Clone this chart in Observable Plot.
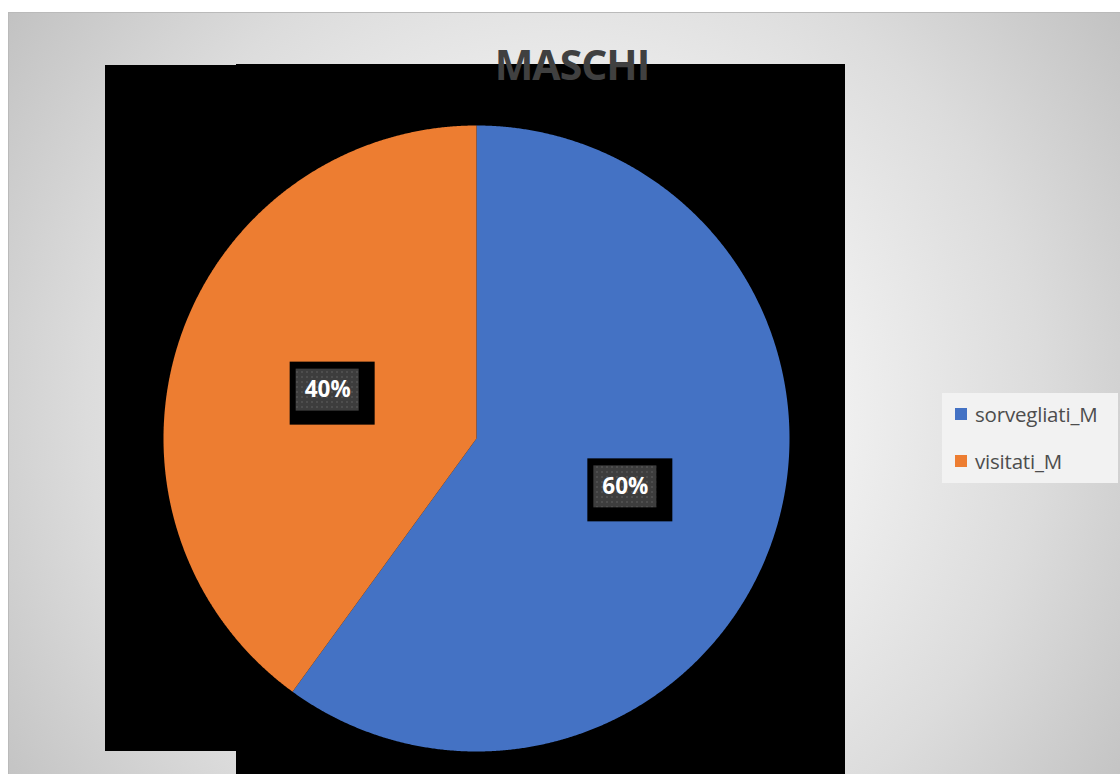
<!DOCTYPE html>
<html>
<head>
<meta charset="utf-8">
<script src="https://cdn.jsdelivr.net/npm/d3@7"></script>
<script src="https://cdn.jsdelivr.net/npm/@observablehq/plot@0.6"></script>
<style>
  html, body { margin: 0; padding: 0; background: #ffffff; }
  #root { position: relative; width: 1120px; height: 774px; overflow: hidden; background: #fff; font-family: "Open Sans", sans-serif; }
  #bg { position: absolute; left: 8px; top: 12px; width: 1112px; height: 762px;
        border-top: 1px solid #bababa; border-left: 1px solid #bababa; box-sizing: border-box;
        background: radial-gradient(circle farthest-corner at 50% 52%, #ffffff 0%, #f0f0f0 40%, #dcdcdc 70%, #c2c2c2 100%); }
  .blk { position: absolute; background: #000; }
  #title { position: absolute; left: 372px; width: 400px; top: 36px; text-align: center;
           font-family: "Open Sans", sans-serif; font-weight: 700; font-size: 41px; color: #404040; line-height: 56px; letter-spacing: -1px; }
  #legend { position: absolute; left: 942px; top: 393px; width: 176px; height: 90px; background: #f2f2f2; }
  .item { position: absolute; left: 13px; height: 24px; display: flex; align-items: center;
          font-family: "Open Sans", sans-serif; font-size: 20.5px; color: #4d4d4d; white-space: nowrap; letter-spacing: -0.2px; }
  .sw { width: 12px; height: 12px; margin-right: 8px; }
  #chart { position: absolute; left: 0; top: 0; }
</style>
</head>
<body>
<div id="root">
  <div id="bg"></div>
  <div class="blk" style="left:105px; top:65px; width:131px; height:686px;"></div>
  <div class="blk" style="left:236px; top:64px; width:609px; height:710px;"></div>
  <div id="chart"></div>
  <div id="title"></div>
  <div id="legend"></div>
</div>
<script>
const title = "MASCHI";
const categories = ["sorvegliati_M", "visitati_M"];
const values = [60, 40];
const colors = ["#4472c4", "#ed7d31"];
const labels = ["60%", "40%"];

const arcs = d3.pie().sort(null)(values);

// slice outlines in unit-circle data space
const slicePts = [];
arcs.forEach((a, i) => {
  slicePts.push({name: categories[i], x: 0, y: 0});
  const n = Math.ceil((a.endAngle - a.startAngle) / (Math.PI / 720));
  for (let j = 0; j <= n; j++) {
    const t = a.startAngle + (a.endAngle - a.startAngle) * j / n;
    slicePts.push({name: categories[i], x: Math.sin(t), y: Math.cos(t)});
  }
});

const labelData = arcs.map((a, i) => {
  const m = (a.startAngle + a.endAngle) / 2;
  return {name: categories[i], text: labels[i], x: 0.5 * Math.sin(m), y: 0.5 * Math.cos(m)};
});

const xRange = [163, 789];
const yRange = [751, 125];
const k = (xRange[1] - xRange[0]) / 2; // pixels per data unit
const px = v => v / k;

const plot = Plot.plot({
  width: 1120,
  height: 774,
  x: {domain: [-1, 1], range: xRange, axis: null},
  y: {domain: [-1, 1], range: yRange, axis: null},
  color: {domain: categories, range: colors},
  style: {background: "transparent", overflow: "visible"},
  marks: [
    Plot.line(slicePts, {x: "x", y: "y", z: "name", fill: "name", stroke: "none", curve: "linear"}),
    Plot.rect(labelData, {
      x1: d => d.x - px(37.5), x2: d => d.x + px(47.5),
      y1: d => d.y + px(28), y2: d => d.y - px(35),
      fill: "#000"
    }),
    Plot.rect(labelData, {
      x1: d => d.x - px(31.5), x2: d => d.x + px(31.5),
      y1: d => d.y + px(21), y2: d => d.y - px(21),
      fill: "url(#dotpat)"
    }),
    Plot.text(labelData, {
      x: "x", y: "y", text: "text", fill: "#ffffff",
      fontSize: 22.5, fontWeight: "bold", fontFamily: "Open Sans"
    })
  ]
});

// dotted pattern for label boxes
const ns = "http://www.w3.org/2000/svg";
const defs = document.createElementNS(ns, "defs");
defs.innerHTML = '<pattern id="dotpat" width="5" height="5" patternUnits="userSpaceOnUse">' +
  '<rect width="5" height="5" fill="#3d3d3d"/><rect x="1" y="1" width="2" height="2" fill="#4e4e4e"/></pattern>';
plot.insertBefore(defs, plot.firstChild);
document.getElementById("chart").appendChild(plot);

document.getElementById("title").textContent = title;

const legend = document.getElementById("legend");
categories.forEach((c, i) => {
  const it = document.createElement("div");
  it.className = "item";
  it.style.top = (i === 0 ? 9 : 56) + "px";
  const sw = document.createElement("div");
  sw.className = "sw";
  sw.style.background = colors[i];
  const tx = document.createElement("span");
  tx.textContent = c;
  it.appendChild(sw);
  it.appendChild(tx);
  legend.appendChild(it);
});
</script>
</body>
</html>
